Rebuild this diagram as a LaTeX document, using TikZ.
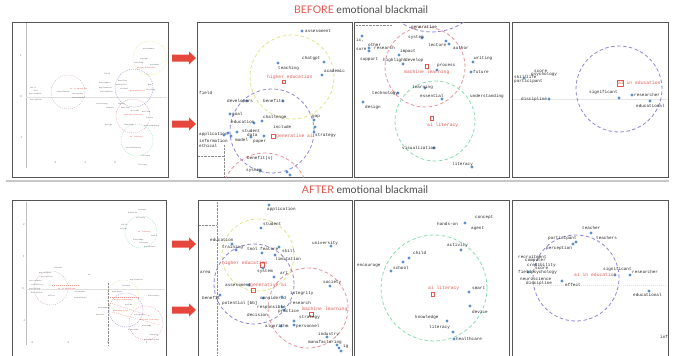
\documentclass[tikz,border=0pt]{standalone}
\usepackage{fontspec}
\setmainfont{Lato}
\newfontfamily\kwfont{Liberation Mono}
\usepackage{tikz}
\definecolor{dotblue}{HTML}{5B8FC9}
\definecolor{topicred}{HTML}{E0584F}
\definecolor{arrowred}{HTML}{E5473D}
\definecolor{cyel}{HTML}{E2E38A}
\definecolor{cpur}{HTML}{8C84D4}
\definecolor{cpink}{HTML}{E8939B}
\definecolor{cgreen}{HTML}{86DDB0}
\definecolor{cgray}{HTML}{C9A9A9}
\definecolor{framegray}{HTML}{555555}
\newcommand{\wdot}[1]{\fill[dotblue] (#1) circle (1.7pt);}
\newcommand{\redbox}[2]{\draw[topicred, line width=0.35pt] (#1) rectangle (#2);}
\newcommand{\blockarrow}[1]{\fill[arrowred] (#1) ++(-10,-3.5) -- ++(17,0) -- ++(0,-3) -- ++(7,6.5) -- ++(-7,6.5) -- ++(0,-3) -- ++(-17,0) -- cycle;}
\tikzset{kw/.style={font=\kwfont\fontsize{4.3}{5}\selectfont, anchor=west, inner sep=0pt, text=black!85},
         topic/.style={kw, font=\kwfont\fontsize{4.7}{5}\selectfont, text=topicred},
         mini/.style={font=\kwfont\fontsize{1.9}{2}\selectfont, anchor=west, inner sep=0pt, text=black!60},
         minired/.style={mini, text=topicred},
         tick/.style={font=\fontsize{2.6}{3}\selectfont, inner sep=0pt, text=black!55},
         panel/.style={draw=framegray, line width=0.7pt},
         ring/.style={line width=0.8pt, dash pattern=on 3.5pt off 2.5pt},
         minring/.style={line width=0.35pt, dash pattern=on 1pt off 1pt},
         guide/.style={black!45, line width=0.3pt, dash pattern=on 0.6pt off 0.8pt},
         title/.style={font=\fontsize{10.5}{12}\selectfont, text=black!70}}

\begin{document}
\begin{tikzpicture}[x=1pt,y=-1pt]
\useasboundingbox (0,0) rectangle (675,356);

\node[title] (before) at (361,10) {\textcolor{topicred}{BEFORE} emotional blackmail};
\draw[black!22, line width=2.2pt] (6,181) -- (669,181);
\node[title] (after) at (365,190) {\textcolor{topicred}{AFTER} emotional blackmail};

\draw[panel] (12,22) rectangle (168,177);
\draw[panel] (197,22) rectangle (352,177);
\draw[panel] (354,22) rectangle (509,177);
\draw[panel] (512,22) rectangle (668,177);
\draw[panel] (12,357) -- (12,200) -- (166,200) -- (166,357);
\draw[panel] (198,357) -- (198,200) -- (352,200) -- (352,357);
\draw[panel] (354,357) -- (354,200) -- (509,200) -- (509,357);
\draw[panel] (512,357) -- (512,200) -- (668,200) -- (668,357);

\blockarrow{182,58}
\blockarrow{182,124}
\blockarrow{182,244}
\blockarrow{182,310}

% before, overview
\begin{scope}
\clip (12,22) rectangle (168,177);
\draw[black!25, line width=0.3pt] (26,23) -- (26,168);
\draw[black!12, line width=0.3pt] (26,97) -- (167,97);
\node[tick] (b1y1) at (21,56) {1};
\node[tick] (b1y0) at (21,97) {0};
\node[tick] (b1y2) at (21,138) {-1};
\node[tick] (b1x1) at (55,163) {-2};
\node[tick] (b1x2) at (85,163) {-1};
\node[tick] (b1x3) at (115,163) {0};
\draw[cgray, minring] (68,92) circle (17pt);
\draw[cyel, minring] (150,58) circle (17pt);
\draw[cpur, minring] (134,88) circle (19pt);
\draw[cpink, minring] (133,116) circle (17pt);
\draw[cgreen, minring] (137,140) circle (16pt);
\node[mini] (m1a) at (30,88) {skill};
\node[mini] (m1b) at (33,91) {life};
\node[mini] (m1c) at (29,94) {participant};
\node[mini] (m1d) at (30,100) {discipline};
\node[mini] (m1e) at (57,92) {significant};
\node[minired] (m1f) at (70,89) {ai in education};
\node[mini] (m1g) at (72,94) {researcher};
\node[mini] (m1h) at (72,98) {educational};
\node[mini] (m1i) at (143,49) {assessment};
\node[mini] (m1j) at (140,59) {chatgpt};
\node[mini] (m1k) at (134,63) {teaching};
\node[mini] (m1l) at (150,65) {academic};
\node[minired] (m1m) at (137,68) {higher education};
\node[mini] (m1n) at (104,74) {field};
\node[mini] (m1o) at (99,83) {developers};
\node[mini] (m1p) at (118,81) {benefits};
\node[mini] (m1q) at (99,88) {application};
\node[mini] (m1r) at (116,85) {education};
\node[mini] (m1s) at (120,89) {student};
\node[minired] (m1t) at (130,91) {generative ai};
\node[mini] (m1u) at (148,85) {gap};
\node[mini] (m1v) at (146,90) {strategy};
\node[mini] (m1w) at (100,92) {information};
\node[mini] (m1x) at (96,104) {technology};
\node[mini] (m1y) at (106,108) {support};
\node[mini] (m1z) at (118,104) {impact};
\node[mini] (m1aa) at (121,108) {develop};
\node[mini] (m1ab) at (131,111) {process};
\node[minired] (m1ac) at (124,115) {machine learning};
\node[mini] (m1ad) at (142,112) {writing};
\node[mini] (m1ae) at (146,118) {future};
\node[mini] (m1af) at (105,125) {design};
\node[mini] (m1ag) at (124,125) {learning};
\node[mini] (m1ah) at (144,126) {understanding};
\node[minired] (m1ai) at (130,137) {ai literacy};
\node[mini] (m1aj) at (126,148) {visualization};
\node[mini] (m1ak) at (141,156) {literacy};
\node[mini] (m1al) at (138,165) {literacy};
\end{scope}

% before, generative ai / higher education
\begin{scope}
\clip (197,22) rectangle (352,177);
\draw[cyel, ring] (292,77) circle (42pt);
\draw[cpur, ring] (272,131) circle (42pt);
\draw[cpink, ring] (265,196) circle (43pt);
\draw[guide] (224,145) -- (224,177);
\draw[guide] (198,156) -- (224,156);
\wdot{302,31} \node[kw] (b2assess) at (305,31) {assessment};
\wdot{324,62} \node[kw] (b2chat) at (302,58) {chatgpt};
\wdot{278,63} \node[kw] (b2teach) at (278,68) {teaching};
\wdot{322,75} \node[kw] (b2acad) at (324,71) {academic};
\node[topic] (b2higher) at (267,77) {higher education};
\redbox{282,80}{285,83}
\node[kw] (b2field) at (199,93) {field};
\wdot{247,101} \node[kw] (b2dev) at (227,101) {developers};
\wdot{283,101} \node[kw] (b2bene) at (263,101) {benefits};
\wdot{230,114} \node[kw] (b2goal) at (232,114) {goal};
\wdot{254,123} \node[kw] (b2edu) at (231,122) {education};
\wdot{262,121} \node[kw] (b2chal) at (263,117) {challenge};
\node[kw] (b2incl) at (273,127) {include};
\wdot{237,132} \node[kw] (b2stud) at (242,131) {student};
\node[kw] (b2app) at (199,134) {application};
\wdot{224,135} \wdot{228,133} \wdot{231,136}
\wdot{251,137} \node[kw] (b2data) at (247,135) {data};
\node[kw] (b2model) at (235,140) {model};
\wdot{264,136} \node[kw] (b2paper) at (253,142) {paper};
\node[kw] (b2info) at (199,141) {information};
\node[kw] (b2eth) at (199,146) {ethical};
\redbox{271,134}{275,138}
\node[topic] (b2gen) at (276,136) {generative ai};
\wdot{314,120} \node[kw] (b2gap) at (312,117) {gap};
\wdot{315,127}
\wdot{314,132} \node[kw] (b2strat) at (315,136) {strategy};
\node[kw] (b2benes) at (247,158) {benefit(s)};
\wdot{260,171} \node[kw] (b2sys) at (246,171) {system};
\wdot{287,172} \wdot{290,175}
\end{scope}

% before, machine learning / ai literacy
\begin{scope}
\clip (354,22) rectangle (509,177);
\draw[cpur, ring] (432,-24) circle (56pt);
\draw[cpink, ring] (425,67) circle (40pt);
\draw[cgreen, ring] (435,121) circle (40pt);
\draw[guide] (356,25) -- (392,25);
\node[kw] (b3gen) at (411,27) {generative};
\wdot{422,38} \node[kw] (b3sys) at (408,38) {system};
\node[kw] (b3lect) at (428,45) {lecture};
\wdot{446,41} \wdot{449,44} \node[kw] (b3auth) at (453,48) {author};
\wdot{362,36} \node[kw] (b3ic) at (356,40) {ic,};
\node[kw] (b3other) at (368,45) {other};
\wdot{369,48} \wdot{369,51} \node[kw] (b3res) at (374,48) {research};
\node[kw] (b3sure) at (356,49) {sure};
\wdot{399,55} \node[kw] (b3imp) at (400,51) {impact};
\node[kw] (b3supp) at (360,60) {support};
\node[kw] (b3high) at (383,60) {highlight};
\wdot{403,64} \node[kw] (b3dev) at (405,60) {develop};
\wdot{437,70} \node[kw] (b3proc) at (437,66) {process};
\redbox{425,64}{428,68}
\node[topic] (b3ml) at (404,72) {machine learning};
\wdot{473,62} \node[kw] (b3writ) at (474,58) {writing};
\wdot{471,72} \node[kw] (b3fut) at (473,72) {future};
\wdot{425,88} \node[kw] (b3learn) at (412,87) {learning};
\wdot{398,93} \node[kw] (b3tech) at (372,93) {technology};
\wdot{442,99} \node[kw] (b3ess) at (420,96) {essential};
\node[kw] (b3und) at (470,96) {understanding};
\wdot{363,102} \node[kw] (b3des) at (365,107) {design};
\redbox{430,116}{433,120}
\node[topic] (b3lit) at (427,125) {ai literacy};
\wdot{434,148} \node[kw] (b3vis) at (402,148) {visualization};
\wdot{472,167} \node[kw] (b3lit2) at (452,164) {literacy};
\end{scope}

% before, ai in education
\begin{scope}
\clip (512,22) rectangle (668,177);
\draw[black!10, line width=0.3pt] (513,99) -- (667,99);
\draw[cpur, ring] (619,89) circle (43pt);
\node[kw] (b4score) at (534,71) {score};
\node[kw] (b4psy) at (531,74) {psychology};
\node[kw] (b4skill) at (514,77) {skill};
\wdot{524,78} \node[kw] (b4life) at (526,77) {life};
\node[kw] (b4part) at (514,81) {participant};
\wdot{549,99} \node[kw] (b4disc) at (521,99) {discipline};
\redbox{617,80}{623,86}
\node[topic] (b4aied) at (618,83) {ai in education};
\wdot{619,98} \node[kw] (b4sig) at (589,92) {significant};
\wdot{632,95} \node[kw] (b4res) at (634,95) {researcher};
\wdot{650,101} \node[kw] (b4edu) at (636,106) {educational};
\end{scope}

% after, overview
\begin{scope}
\clip (12,200) rectangle (166,356);
\draw[black!25, line width=0.3pt] (26,202) -- (26,345);
\draw[black!12, line width=0.3pt] (26,289) -- (165,289);
\draw[guide] (108,283) -- (108,345);
\node[tick] (a1y1) at (24,225) {2};
\node[tick] (a1y2) at (24,257) {1};
\node[tick] (a1y3) at (23,289) {0};
\node[tick] (a1y4) at (24,321) {-1};
\node[tick] (a1x1) at (32,343) {-2};
\node[tick] (a1x2) at (68,343) {-1};
\node[tick] (a1x3) at (108,343) {0};
\node[tick] (a1x4) at (147,343) {1};
\draw[cgray, minring] (51,288) circle (17pt);
\draw[cgreen, minring] (141,232) circle (16pt);
\draw[cyel, minring] (123,296) circle (16pt);
\draw[cpur, minring] (126,310) circle (17pt);
\draw[cpink, minring] (146,323) circle (17pt);
\draw[topicred!60, minring] (52,285) -- (80,285);
\draw[topicred!60, minring] (110,297) -- (140,297);
\draw[topicred!60, minring] (110,303) -- (150,316);
\draw[topicred!60, minring] (112,312) -- (160,325);
\node[mini] (m2a) at (138,210) {concept};
\node[mini] (m2b) at (128,213) {hands-on};
\node[mini] (m2c) at (136,218) {activity};
\node[mini] (m2d) at (121,225) {child};
\node[mini] (m2e) at (120,229) {school};
\node[minired] (m2f) at (138,232) {ai literacy};
\node[mini] (m2g) at (151,236) {smart};
\node[mini] (m2h) at (133,240) {knowledge};
\node[mini] (m2i) at (139,243) {literacy};
\node[mini] (m2j) at (144,247) {healthcare};
\node[mini] (m2k) at (54,268) {teacher};
\node[mini] (m2l) at (39,273) {participant};
\node[mini] (m2m) at (41,277) {perception};
\node[mini] (m2n) at (29,281) {recruitment};
\node[mini] (m2o) at (31,285) {credibility};
\node[mini] (m2p) at (29,289) {psychology};
\node[mini] (m2q) at (31,293) {discipline};
\node[minired] (m2r) at (58,289) {ai in education};
\node[mini] (m2s) at (74,292) {researcher};
\node[mini] (m2t) at (74,298) {educational};
\node[mini] (m2u) at (48,296) {effect};
\node[mini] (m2v) at (88,275) {ai};
\node[mini] (m2w) at (130,280) {application};
\node[mini] (m2x) at (122,286) {student};
\node[mini] (m2y) at (112,292) {education};
\node[mini] (m2z) at (148,296) {university};
\node[minired] (m2aa) at (114,300) {higher education};
\node[mini] (m2ab) at (125,305) {system};
\node[mini] (m2ac) at (98,308) {assessment};
\node[minired] (m2ad) at (113,311) {generative ai};
\node[mini] (m2ae) at (96,315) {benefit};
\node[mini] (m2af) at (134,315) {integrity};
\node[minired] (m2ag) at (140,320) {machine learning};
\node[mini] (m2ah) at (142,326) {strategy};
\node[mini] (m2ai) at (128,330) {algorithm};
\node[mini] (m2aj) at (149,335) {industry};
\node[mini] (m2ak) at (144,340) {manufacturing};
\end{scope}

% after, generative ai / higher education / machine learning
\begin{scope}
\clip (198,200) rectangle (352,356);
\draw[cyel, ring] (258,255) circle (36pt);
\draw[cpur, ring] (254,284) circle (40pt);
\draw[cpink, ring] (308,308) circle (40pt);
\draw[guide] (217,202) -- (217,356);
\draw[guide] (199,225) -- (217,225);
\wdot{269,205} \node[kw] (a2app) at (267,209) {application};
\wdot{261,228} \node[kw] (a2stud) at (263,224) {student};
\node[kw] (a2edu) at (210,240) {education};
\wdot{232,244} \wdot{236,250} \node[kw] (a2train) at (222,247) {training};
\node[kw] (a2tool) at (247,249) {tool};
\node[kw] (a2feat) at (260,249) {feature};
\wdot{279,247} \node[kw] (a2skill) at (282,251) {skill};
\wdot{262,253}
\wdot{275,255} \node[kw] (a2lim) at (275,259) {limitation};
\wdot{331,246} \node[kw] (a2univ) at (312,243) {university};
\node[topic] (a2higher) at (222,263) {higher education};
\redbox{260,262}{264,267}
\node[kw] (a2area) at (200,272) {area};
\wdot{263,268} \node[kw] (a2sys) at (257,272) {system};
\wdot{274,277} \node[kw] (a2art) at (280,273) {art};
\wdot{330,286} \node[kw] (a2soc) at (323,282) {society};
\wdot{249,285} \node[kw] (a2assess) at (225,285) {assessment};
\node[topic] (a2gen) at (250,285) {generative ai};
\redbox{251,288}{255,292}
\wdot{220,295} \node[kw] (a2bene) at (202,298) {benefit};
\node[kw] (a2pot) at (222,303) {potential};
\node[kw] (a2bb) at (247,303) {[bb]};
\wdot{263,298} \node[kw] (a2cons) at (260,298) {considered};
\wdot{282,297} \node[kw] (a2integ) at (290,293) {integrity};
\node[kw] (a2res) at (290,303) {research};
\wdot{282,307} \wdot{284,310} \node[kw] (a2resp) at (257,307) {responsible};
\node[kw] (a2prac) at (278,311.5) {practice};
\node[topic] (a2ml) at (302,309) {machine learning};
\redbox{309,312}{313,316}
\node[kw] (a2dec) at (247,315) {decision};
\wdot{294,321} \node[kw] (a2strat) at (299,318) {strategy};
\wdot{281,326} \node[kw] (a2algo) at (265,326) {algorithm};
\wdot{294,325} \node[kw] (a2pers) at (296,326) {personnel};
\wdot{327,337} \node[kw] (a2ind) at (318,334) {industry};
\wdot{337,345} \node[kw] (a2manu) at (308,342) {manufacturing};
\wdot{339,348} \wdot{341,351} \node[kw] (a2ig) at (343,346) {ig};
\end{scope}

% after, ai literacy
\begin{scope}
\clip (354,200) rectangle (509,356);
\draw[cgreen, ring] (434,288) circle (53pt);
\wdot{465,223} \node[kw] (a3conc) at (475,218) {concept};
\node[kw] (a3hand) at (437,224) {hands-on};
\node[kw] (a3agent) at (471,229) {agent};
\wdot{461,250} \node[kw] (a3act) at (447,245) {activity};
\wdot{409,258} \node[kw] (a3child) at (413,253) {child};
\wdot{403,262} \wdot{391,271} \node[kw] (a3enc) at (357,266) {encourage};
\node[kw] (a3school) at (393,268) {school};
\node[topic] (a3lit) at (428,288) {ai literacy};
\redbox{431,292}{434,296}
\wdot{469,292} \node[kw] (a3smart) at (472,288) {smart};
\wdot{470,306} \node[kw] (a3dev) at (472,312) {device};
\wdot{447,321} \node[kw] (a3know) at (415,317) {knowledge};
\wdot{453,332} \node[kw] (a3lit2) at (429,327) {literacy};
\wdot{454,339} \node[kw] (a3health) at (456,339) {healthcare};
\end{scope}

% after, ai in education
\begin{scope}
\clip (512,200) rectangle (668,356);
\draw[black!10, line width=0.3pt, dash pattern=on 1pt off 1pt] (533,285) -- (667,285);
\draw[cpur, ring] (576,278) circle (43pt);
\wdot{591,233} \node[kw] (a4teach) at (582,228) {teacher};
\node[kw] (a4teachs) at (596,238) {teachers};
\wdot{573,244} \wdot{576,242} \node[kw] (a4part) at (548,238) {participant};
\node[kw] (a4perc) at (546,248) {perception};
\node[kw] (a4recr) at (518,257) {recruitment};
\node[kw] (a4comp) at (525,261) {computer};
\node[kw] (a4cred) at (527,265) {credibility};
\node[kw] (a4score) at (535,268) {score};
\wdot{528,272} \node[kw] (a4field) at (518,272) {fieldpsychology};
\node[kw] (a4neuro) at (520,279) {neuroscience};
\node[kw] (a4disc) at (526,283) {discipline};
\wdot{562,281} \node[kw] (a4eff) at (565,285) {effect};
\node[topic] (a4aied) at (574,275) {ai in education};
\wdot{615,275} \node[kw] (a4sig) at (603,269) {significant};
\wdot{630,275} \node[kw] (a4res) at (632,272) {researcher};
\wdot{649,291} \node[kw] (a4edu) at (633,295) {educational};
\node[kw] (a4inf) at (660,337) {inf};
\end{scope}
\end{tikzpicture}
\end{document}
